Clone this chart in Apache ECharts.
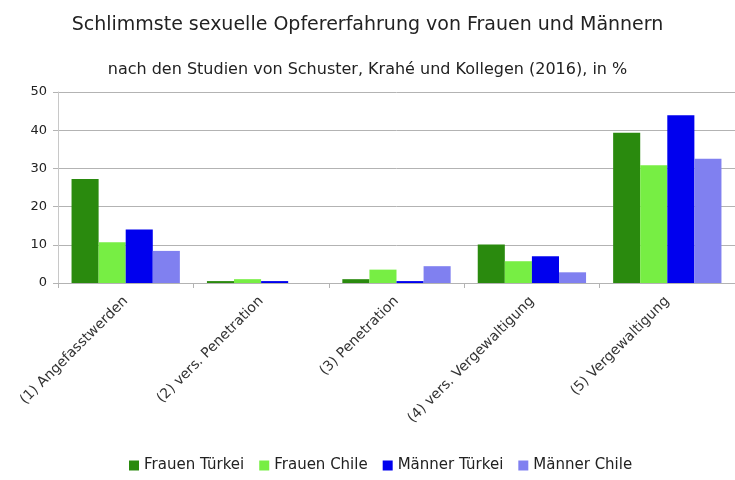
<!DOCTYPE html>
<html><head><meta charset="utf-8">
<script src="https://cdn.jsdelivr.net/npm/echarts@6/dist/echarts.min.js"></script>
<style>html,body{margin:0;padding:0;background:#fff}#c{width:735px;height:480px}</style>
</head><body><div id="c"></div>
<script>
const categories = ["(1) Angefasstwerden", "(2) vers. Penetration", "(3) Penetration", "(4) vers. Vergewaltigung", "(5) Vergewaltigung"];
const frauenTuerkei = [27.2, 0.5, 1.0, 10.1, 39.3];
const frauenChile = [10.7, 1.0, 3.5, 5.7, 30.8];
const maennerTuerkei = [14.0, 0.5, 0.5, 7.0, 43.9];
const maennerChile = [8.4, 0, 4.4, 2.8, 32.5];
const seriesNames = ["Frauen Türkei", "Frauen Chile", "Männer Türkei", "Männer Chile"];
const colors = ["#2a8a0e", "#77ee44", "#0000ee", "#8080f0"];

const chart = echarts.init(document.getElementById('c'));
const font = "DejaVu Sans, Liberation Sans, sans-serif";
chart.setOption({
  textStyle: {fontFamily: font},
  title: [
    {text: "Schlimmste sexuelle Opfererfahrung von Frauen und Männern", left: 'center', top: 11,
     textStyle: {fontSize: 19, fontWeight: 'normal', color: '#222', fontFamily: font}},
    {text: "nach den Studien von Schuster, Krahé und Kollegen (2016), in %", left: 'center', top: 57,
     textStyle: {fontSize: 16, fontWeight: 'normal', color: '#222', fontFamily: font}}
  ],
  legend: {
    bottom: 2, left: 124, itemWidth: 10, itemHeight: 10, itemGap: 15, icon: 'rect',
    textStyle: {fontSize: 15, color: '#222', fontFamily: font},
    data: seriesNames
  },
  grid: {left: 58, right: -4, top: 92, bottom: 197},
  xAxis: {
    type: 'category', data: categories, boundaryGap: true,
    axisLine: {lineStyle: {color: '#b3b3b3'}},
    axisTick: {show: true, alignWithLabel: false, lineStyle: {color: '#b3b3b3'}},
    axisLabel: {rotate: 45, interval: 0, fontSize: 14, color: '#333', margin: 16, fontFamily: font}
  },
  yAxis: {
    type: 'value', min: 0, max: 50, interval: 10,
    axisLine: {show: true, lineStyle: {color: '#c8c8c8'}},
    axisTick: {show: true, length: 5, lineStyle: {color: '#b3b3b3'}},
    axisLabel: {fontSize: 13, color: '#222', margin: 11, fontFamily: font},
    splitLine: {lineStyle: {color: '#b3b3b3'}}
  },
  series: [frauenTuerkei, frauenChile, maennerTuerkei, maennerChile].map((d, i) => ({
    name: seriesNames[i], type: 'bar', data: d, barGap: '0%', barCategoryGap: '20%',
    itemStyle: {color: colors[i]}
  }))
});
</script></body></html>
